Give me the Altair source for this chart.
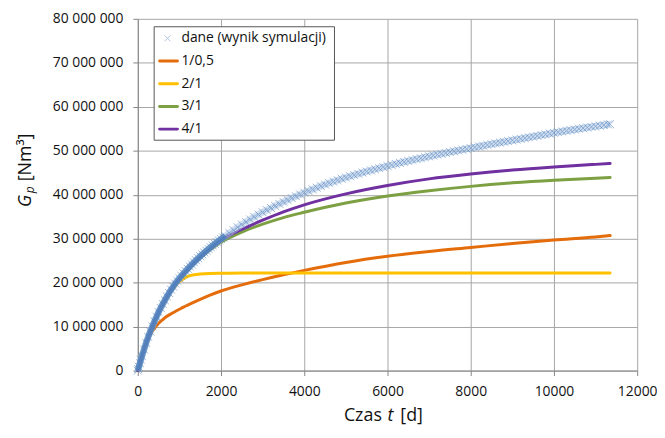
import altair as alt
import pandas as pd

# ---------------- data (G in millions of Nm3, t in days) ----------------
series_labels = ["dane (wynik symulacji)", "1/0,5", "2/1", "3/1", "4/1"]
series_colors = ["#4F81BD", "#E46C0A", "#FFC000", "#7DA043", "#7030A0"]

t_dane_early = [0, 10, 25, 50, 75] + list(range(100, 2101, 50))
g_dane_early = [0, 0.35, 0.85, 1.7, 2.5,
                3.3, 4.8, 6.3, 7.65, 8.9, 10.05, 11.2, 12.25, 13.3, 14.25,
                15.15, 16.0, 16.85, 17.65, 18.4, 19.1, 19.8, 20.4, 21.0, 21.55,
                22.1, 22.62, 23.15, 23.65, 24.15, 24.62, 25.1, 25.55, 26.0, 26.43,
                26.85, 27.26, 27.67, 28.06, 28.45, 28.83, 29.2, 29.56, 29.92, 30.27,
                30.6]
t_dane_late = list(range(2200, 11301, 100)) + [11350]
g_dane_late = [31.28, 31.94, 32.58, 33.2, 33.8, 34.38, 34.94, 35.48, 36.0, 36.5,
               36.98, 37.45, 37.91, 38.36, 38.8, 39.23, 39.65, 40.06, 40.46, 40.85,
               41.23, 41.6, 41.96, 42.31, 42.65, 42.98, 43.3, 43.61, 43.91, 44.2,
               44.48, 44.75, 45.02, 45.28, 45.54, 45.79, 46.04, 46.28, 46.52, 46.76,
               46.99, 47.22, 47.45, 47.67, 47.89, 48.1, 48.31, 48.52, 48.72, 48.92,
               49.12, 49.31, 49.5, 49.69, 49.88, 50.06, 50.24, 50.42, 50.6, 50.78,
               50.96, 51.14, 51.32, 51.5, 51.68, 51.85, 52.02, 52.19, 52.36, 52.53,
               52.7, 52.87, 53.04, 53.21, 53.38, 53.55, 53.72, 53.89, 54.06, 54.22,
               54.38, 54.54, 54.69, 54.84, 54.99, 55.14, 55.28, 55.42, 55.56, 55.7,
               55.84, 55.97, 56.04]

t_model = [0, 50, 100, 200, 300, 400, 500, 600, 700, 800, 900, 1000, 1100, 1200,
           1300, 1500, 1750, 2000, 2500, 3000, 3500, 4000, 5000, 6000, 7000, 8000,
           9000, 10000, 11000, 11350]
g_1_05 = [0, 1.7, 3.3, 6.1, 8.2, 9.6, 10.75, 11.6, 12.35, 12.9, 13.45, 13.95, 14.45,
          14.9, 15.35, 16.2, 17.2, 18.1, 19.5, 20.7, 21.8, 22.8, 24.6, 26.0, 27.1,
          28.0, 28.9, 29.7, 30.4, 30.7]
g_2_1 = [0, 1.7, 3.3, 6.3, 8.9, 11.2, 13.2, 15.0, 16.6, 18.0, 19.2, 20.2, 20.9,
         21.4, 21.7, 21.95, 22.1, 22.15, 22.2, 22.2, 22.2, 22.2, 22.2, 22.2, 22.2,
         22.2, 22.2, 22.2, 22.2, 22.2]
g_3_1 = [0, 1.7, 3.3, 6.3, 8.9, 11.1, 13.1, 14.9, 16.6, 18.1, 19.5, 20.7, 21.8,
         22.8, 23.8, 25.6, 27.5, 29.2, 31.5, 33.3, 34.8, 36.0, 38.1, 39.7, 40.9,
         41.9, 42.7, 43.3, 43.75, 43.9]
g_4_1 = [0, 1.7, 3.3, 6.3, 8.9, 11.2, 13.3, 15.1, 16.8, 18.3, 19.7, 20.9, 22.0,
         23.0, 24.0, 25.8, 27.8, 29.6, 32.1, 34.2, 36.1, 37.7, 40.2, 42.1, 43.6,
         44.7, 45.6, 46.3, 46.9, 47.1]

x_ticks = [0, 2000, 4000, 6000, 8000, 10000, 12000]
y_ticks = [0, 10e6, 20e6, 30e6, 40e6, 50e6, 60e6, 70e6, 80e6]

assert len(t_dane_early) == len(g_dane_early)
assert len(t_dane_late) == len(g_dane_late)

# ---------------- tables ----------------
M = 1e6
df_early = pd.DataFrame({"t": t_dane_early, "G": [v * M for v in g_dane_early]})
df_dane = pd.DataFrame({"t": t_dane_early + t_dane_late,
                        "G": [v * M for v in g_dane_early + g_dane_late]})
model_vals = [g_1_05, g_2_1, g_3_1, g_4_1]
df_lines = pd.concat([
    pd.DataFrame({"t": t_model, "G": [v * M for v in vals], "s": lab})
    for lab, vals in zip(series_labels[1:], model_vals)
], ignore_index=True)

# ---------------- layout ----------------
W, H = 504, 355
FONT = "Open Sans"
XSHAPE = "M-1,-1L1,1M-1,1L1,-1"

x_enc = alt.X("t:Q", scale=alt.Scale(domain=[0, 12000], nice=False),
              axis=alt.Axis(values=x_ticks, format="d", title=None, labelFlush=False))
y_enc = alt.Y("G:Q", scale=alt.Scale(domain=[0, 80e6], nice=False),
              axis=alt.Axis(values=y_ticks, title=None, labelFlush=False,
                            labelExpr="replace(replace(format(datum.value, ','), ',', ' '), ',', ' ')"))

one = pd.DataFrame({"k": [0]})

box = alt.Chart(one).mark_rect(fill="white", stroke="#555555", strokeWidth=1).encode(
    x=alt.value(16.5), x2=alt.value(198.5), y=alt.value(8), y2=alt.value(122.5))

lines = alt.Chart(df_lines).mark_line(strokeWidth=3, interpolate="monotone",
                                      strokeCap="round").encode(
    x=x_enc, y=y_enc,
    color=alt.Color("s:N", scale=alt.Scale(domain=series_labels[1:], range=series_colors[1:]),
                    legend=None))

# dense overlapping markers of the simulation data render as a textured band
haze = alt.Chart(df_dane).mark_line(strokeWidth=7, color="#A9C2E2", opacity=0.55,
                                    interpolate="monotone").encode(x=x_enc, y=y_enc)

band = alt.Chart(df_early).mark_line(strokeWidth=6, color="#4A7EBB", opacity=0.8,
                                     interpolate="monotone").encode(x=x_enc, y=y_enc)

pts = alt.Chart(df_dane).mark_point(shape=XSHAPE, filled=False, size=64, strokeWidth=1,
                                    color="#4F81BD", opacity=0.55).encode(x=x_enc, y=y_enc)

layers = [box, lines, haze, band, pts]

leg_y0, leg_dy = 19.7, 22.9
for i, (lab, col) in enumerate(zip(series_labels, series_colors)):
    yy = leg_y0 + i * leg_dy
    if i == 0:
        sym = alt.Chart(one).mark_point(shape=XSHAPE, filled=False, size=36, strokeWidth=1,
                                        color="#8EADD6").encode(x=alt.value(30), y=alt.value(yy))
    else:
        sym = alt.Chart(one).mark_rule(color=col, strokeWidth=3, strokeCap="round").encode(
            x=alt.value(22), x2=alt.value(40), y=alt.value(yy))
    txt = alt.Chart(one).mark_text(align="left", baseline="middle", font=FONT, fontSize=14,
                                   color="#111111").encode(
        x=alt.value(44), y=alt.value(yy), text=alt.value(lab))
    layers += [sym, txt]

# axis titles built from pieces (italic symbols)
def piece(txt, x, y, size=18, style="normal", angle=0, align="left"):
    kw = dict(align=align, baseline="alphabetic", font=FONT, fontSize=size,
              fontStyle=style, color="#111111")
    if angle:
        kw["angle"] = angle
    return alt.Chart(one).mark_text(**kw).encode(
        x=alt.value(x), y=alt.value(y), text=alt.value(txt))

layers += [
    piece("G", -108, 190, style="italic", angle=270),
    piece("p", -105, 176, size=12, style="italic", angle=270),
    piece("[Nm³]", -108, 164, angle=270),
    piece("Czas", 208, 406),
    piece("t", 252, 406, style="italic"),
    piece("[d]", 265, 406),
]

chart = alt.layer(*layers).properties(
    width=W, height=H,
    padding={"left": 131, "top": 9, "right": 20, "bottom": 55},
    autosize=alt.AutoSizeParams(type="none"),
).configure_view(stroke=None).configure_axis(
    labelFont=FONT, labelFontSize=14, labelColor="#111111",
    gridColor="#A6A6A6", gridWidth=1,
    domainColor="#868686", tickColor="#868686", tickSize=5,
).configure_axisX(labelPadding=9).configure_axisY(labelPadding=10)

chart.save("out.html", embed_options={"renderer": "svg", "actions": False})
